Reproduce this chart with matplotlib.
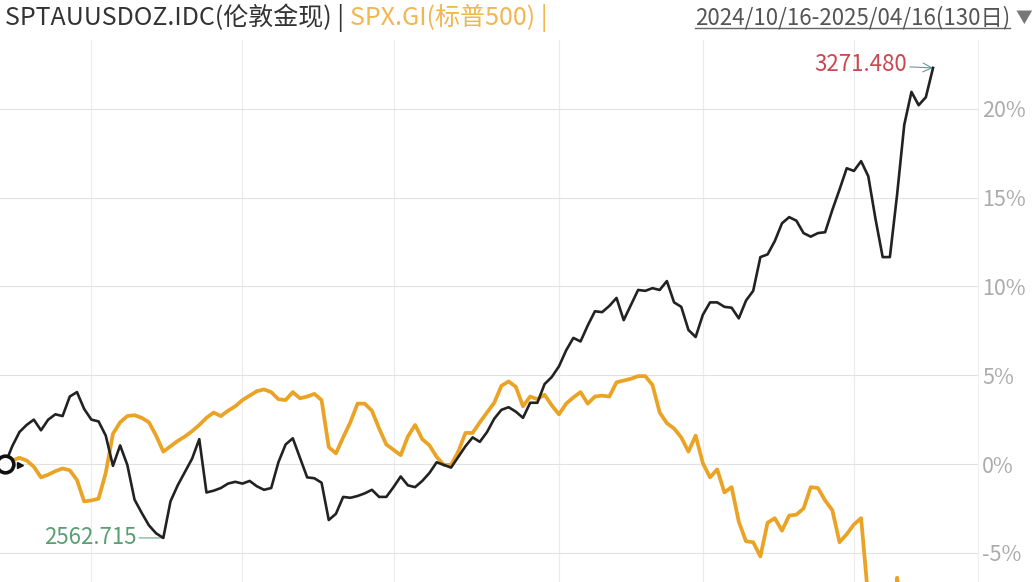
import matplotlib
matplotlib.use("Agg")
import matplotlib.pyplot as plt
import matplotlib.transforms as mtransforms
from matplotlib.lines import Line2D
import numpy as np
import pandas as pd

plt.rcParams["font.family"] = ["Noto Sans CJK SC", "DejaVu Sans"]

# 130 trading days, Christmas closed
dates = pd.bdate_range("2024-10-16", "2025-04-16")
dates = dates[dates != pd.Timestamp("2024-12-25")]

gold_name = "SPTAUUSDOZ.IDC(伦敦金现)"
spx_name = "SPX.GI(标普500)"
period_label = "2024/10/16-2025/04/16(130日)"

# % change from first day
gold_pct = [
    0.00, 1.0, 1.8, 2.2, 2.5, 1.9, 2.5, 2.8, 2.7, 3.8,
    4.05, 3.1, 2.5, 2.4, 1.6, -0.1, 1.05, -0.05, -2.0, -2.75,
    -3.45, -3.9, -4.16, -2.1, -1.2, -0.45, 0.3, 1.4, -1.6, -1.5,
    -1.35, -1.1, -1.0, -1.1, -0.95, -1.25, -1.45, -1.35, 0.1, 1.1,
    1.45, 0.35, -0.75, -0.8, -1.05, -3.15, -2.8, -1.85, -1.9, -1.8,
    -1.65, -1.45, -1.85, -1.85, -1.3, -0.7, -1.2, -1.3, -0.95, -0.5,
    0.1, -0.05, -0.2, 0.4, 1.0, 1.5, 1.25, 1.8, 2.55, 3.05,
    3.2, 2.95, 2.6, 3.45, 3.45, 4.5, 4.9, 5.5, 6.4, 7.1,
    6.9, 7.8, 8.6, 8.55, 8.9, 9.35, 8.1, 8.95, 9.8, 9.75,
    9.9, 9.8, 10.3, 9.1, 8.85, 7.55, 7.15, 8.4, 9.1, 9.1,
    8.85, 8.8, 8.2, 9.2, 9.75, 11.65, 11.8, 12.55, 13.55, 13.9,
    13.7, 13.0, 12.8, 13.0, 13.05, 14.3, 15.45, 16.65, 16.5, 17.05,
    16.2, 13.8, 11.65, 11.65, 15.15, 19.1, 20.95, 20.2, 20.65, 22.3,
]
spx_pct = [
    0.0, 0.2, 0.35, 0.2, -0.15, -0.75, -0.6, -0.4, -0.25, -0.35,
    -0.9, -2.1, -2.05, -1.95, -0.5, 1.7, 2.35, 2.7, 2.75, 2.6,
    2.35, 1.6, 0.7, 1.0, 1.3, 1.55, 1.85, 2.2, 2.6, 2.9,
    2.7, 3.0, 3.25, 3.6, 3.85, 4.1, 4.2, 4.05, 3.65, 3.6,
    4.05, 3.7, 3.8, 3.95, 3.6, 0.95, 0.6, 1.5, 2.35, 3.4,
    3.4, 3.0, 2.0, 1.1, 0.8, 0.5, 1.55, 2.2, 1.4, 1.05,
    0.4, -0.05, -0.05, 0.7, 1.75, 1.75, 2.35, 2.9, 3.45, 4.4,
    4.65, 4.35, 3.25, 3.8, 3.65, 3.9, 3.3, 2.8, 3.4, 3.75,
    4.05, 3.4, 3.8, 3.85, 3.8, 4.6, 4.7, 4.8, 4.95, 4.95,
    4.45, 2.9, 2.3, 2.0, 1.5, 0.7, 1.6, 0.05, -0.75, -0.3,
    -1.6, -1.3, -3.25, -4.35, -4.4, -5.2, -3.3, -3.05, -3.75, -2.9,
    -2.85, -2.5, -1.3, -1.35, -2.05, -2.6, -4.4, -3.95, -3.4, -3.05,
    -7.6, -13.1, -13.3, -14.7, -6.4, -9.8, -8.2, -7.5, -7.6, -9.7,
]
gold_low = 2562.715
gold_high = 3271.480
y_ticks = [-5, 0, 5, 10, 15, 20]

W, H = 1035, 582
fig = plt.figure(figsize=(W / 100, H / 100), dpi=100)
ax = fig.add_axes([0, 0, 978 / W, 542 / H])

x = np.arange(len(dates))
month_starts = [i for i in range(1, len(dates)) if dates[i].month != dates[i - 1].month]

ax.plot(x, spx_pct, color="#eaa324", lw=2.7, zorder=3)
ax.plot(x, gold_pct, color="#222222", lw=1.9, zorder=4)

ax.set_xlim(-0.7, 135.25)
ax.set_ylim(-6.64, 23.87)

ax.set_xticks(month_starts)
ax.set_yticks(y_ticks)
ax.set_yticklabels([f"{v}%" for v in y_ticks])
ax.yaxis.tick_right()
ax.tick_params(axis="x", length=0, labelbottom=False)
ax.tick_params(axis="y", length=0, pad=3, labelsize=15.5, labelcolor="#ababab")
ax.grid(axis="y", color="#e2e2e2", lw=0.8)
ax.grid(axis="x", color="#ececec", lw=0.8)
for side in ["left", "top", "bottom"]:
    ax.spines[side].set_visible(False)
ax.spines["right"].set_color("#efefef")

# start marker
ax.plot(0, 0, "o", ms=12, mfc="white", mec="#111111", mew=2.6, zorder=6, clip_on=False)
tr = mtransforms.offset_copy(ax.transData, fig=fig, x=15, y=-1, units="dots")
ax.plot(0, 0, marker=">", ms=5, color="#111111", transform=tr, zorder=6)

lo = int(np.argmin(gold_pct))
ax.annotate(f"{gold_low:.3f}", xy=(lo, gold_pct[lo]), xytext=(-27, 0),
            textcoords="offset pixels", ha="right", va="center",
            color="#5a9e72", fontsize=16,
            arrowprops=dict(arrowstyle="-", color="#6aa88a", lw=0.8, shrinkA=0, shrinkB=0))
hi = int(np.argmax(gold_pct))
ax.annotate(f"{gold_high:.3f}", xy=(hi, gold_pct[hi]), xytext=(-26, 3),
            textcoords="offset pixels", ha="right", va="center",
            color="#c9474f", fontsize=16,
            arrowprops=dict(arrowstyle="->", color="#5f9ea0", lw=0.8, shrinkA=0, shrinkB=0))

# header
hy = 1 - 18 / H
t1 = fig.text(5 / W, hy, gold_name + " | ", ha="left", va="center", fontsize=18, color="#333333")
fig.canvas.draw()
renderer = fig.canvas.get_renderer()
bb1 = t1.get_window_extent(renderer)
fig.text(bb1.x1 / W, hy, spx_name + " |", ha="left", va="center", fontsize=18, color="#f2b650")

t3 = fig.text(1010 / W, hy, period_label, ha="right", va="center", fontsize=16, color="#555555")
fig.text(1032 / W, hy, "▼", ha="right", va="center", fontsize=12, color="#777777")
bb3 = t3.get_window_extent(renderer)
fig.add_artist(Line2D([bb3.x0, bb3.x1], [bb3.y0 + 2, bb3.y0 + 2],
                      transform=mtransforms.IdentityTransform(), color="#666666", lw=1))

fig.savefig("out.png", dpi=100)
